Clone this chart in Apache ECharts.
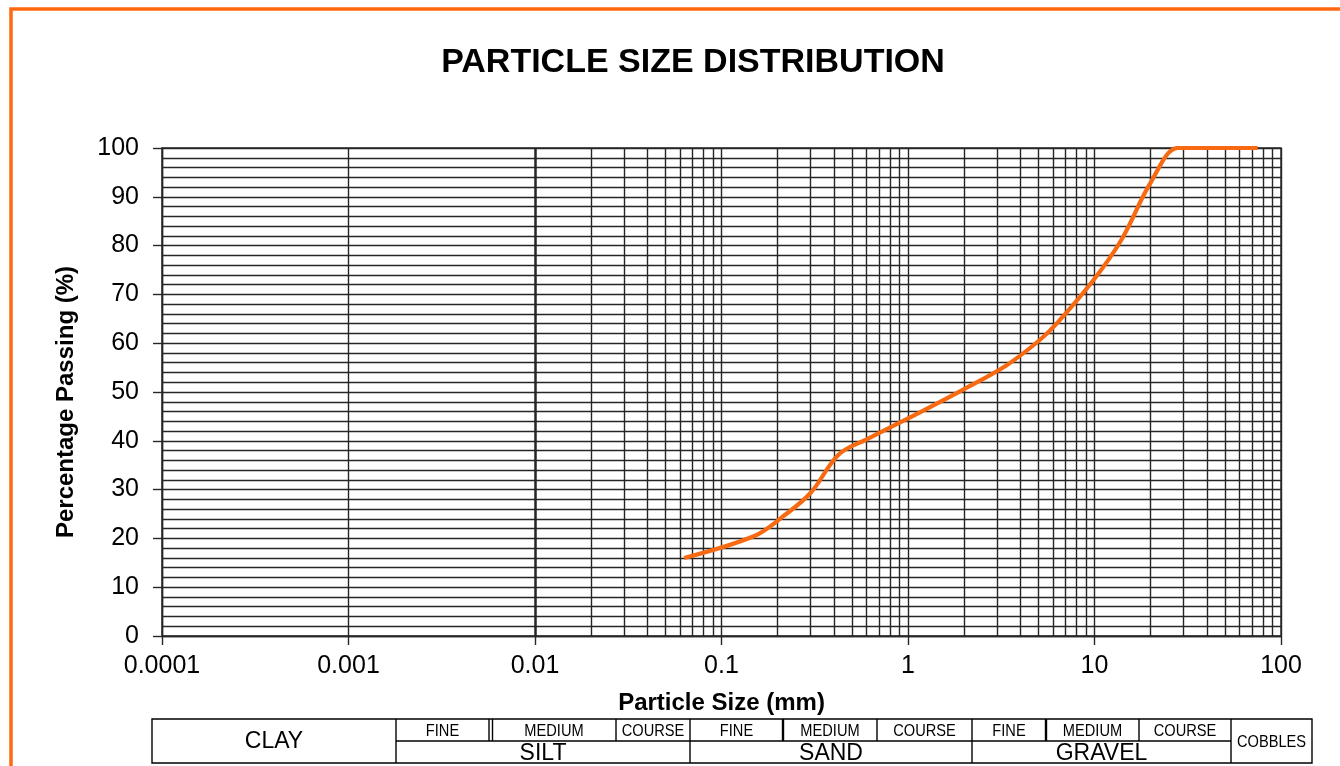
<!DOCTYPE html>
<html>
<head>
<meta charset="utf-8">
<script src="https://cdn.jsdelivr.net/npm/echarts@6/dist/echarts.min.js"></script>
<style>
html,body{margin:0;padding:0;background:#fff;}
#chart{width:1340px;height:766px;}
</style>
</head>
<body>
<div id="chart"></div>
<script>
// ---- data ----
const sieveSizes = [0.063, 0.15, 0.212, 0.3, 0.425, 0.6, 1.18, 2, 3.35, 5, 6.3, 10, 14, 20, 28, 37.5, 50, 63, 75];
const percentPassing = [16, 20.5, 24.4, 29.3, 37.2, 40.3, 46, 50.6, 55.4, 60.4, 64.1, 73.2, 81.3, 92.9, 100, 100, 100, 100, 100];
const xMin = 0.0001, xMax = 100;
const yTicks = [0, 10, 20, 30, 40, 50, 60, 70, 80, 90, 100];
const xTickLabels = ['0.0001', '0.001', '0.01', '0.1', '1', '10', '100'];
const minorMultipliers = [2, 3, 4, 5, 6, 7, 8, 9];
const decadeExponents = [-4, -3, -2, -1, 0, 1];
const yAxisTitle = 'Percentage Passing (%)';
const xAxisTitle = 'Particle Size (mm)';
// classification table labels
const subLabels = ['FINE', 'MEDIUM', 'COURSE', 'FINE', 'MEDIUM', 'COURSE', 'FINE', 'MEDIUM', 'COURSE'];
const groupLabels = ['SILT', 'SAND', 'GRAVEL'];
const edgeLabels = ['CLAY', 'COBBLES'];

// minor vertical grid values (2..9 x 10^k)
const minorX = [];
decadeExponents.forEach(function (e) {
  minorMultipliers.forEach(function (m) {
    minorX.push(parseFloat((m * Math.pow(10, e)).toPrecision(3)));
  });
});

const curveData = sieveSizes.map(function (s, i) { return [s, percentPassing[i]]; });

const GRID = '#262626';
const GW = 1.4;
const ORANGE = '#F76A12';
const FONT = "'Liberation Sans', Arial, sans-serif";

// ---- table layout (pixels) ----
const tTop = 719, tMid = 741, tBot = 763, tLeft = 152, tRight = 1312;
const subCols = [396, 489, 616, 690, 783, 877, 972, 1046, 1139, 1231];
const groupCols = [396, 690, 972, 1231];

const g = [];
function line(x1, y1, x2, y2, w) {
  g.push({ type: 'line', silent: true, shape: { x1: x1, y1: y1, x2: x2, y2: y2 }, style: { stroke: '#000', lineWidth: w || 1.4 } });
}
function txt(x, y, s, size, sx) {
  g.push({ type: 'text', silent: true, x: x, y: y, scaleX: sx || 1, style: { text: s, font: size + 'px ' + FONT, fill: '#000', textAlign: 'center', textVerticalAlign: 'middle' } });
}
// frame
g.push({ type: 'rect', silent: true, shape: { x: 11, y: 9, width: 1400, height: 800 }, style: { fill: 'none', stroke: '#FF6A10', lineWidth: 3.5 } });
// y axis title (rotated)
g.push({ type: 'text', silent: true, x: 66, y: 402, rotation: Math.PI / 2, style: { text: yAxisTitle, font: 'bold 24px ' + FONT, fill: '#000', textAlign: 'center', textVerticalAlign: 'middle' } });
// table outer
g.push({ type: 'rect', silent: true, shape: { x: tLeft, y: tTop, width: tRight - tLeft, height: tBot - tTop }, style: { fill: 'none', stroke: '#000', lineWidth: 1.4 } });
line(396, tMid, 1231, tMid);
// full-height dividers
groupCols.forEach(function (x) { line(x, tTop, x, tBot); });
// top-row dividers
line(489, tTop, 489, tMid); line(492.5, tTop, 492.5, tMid);
line(616, tTop, 616, tMid);
line(783, tTop, 783, tMid, 2.4);
line(877, tTop, 877, tMid);
line(1046, tTop, 1046, tMid, 2.4);
line(1139, tTop, 1139, tMid);
// sub labels
for (let i = 0; i < subLabels.length; i++) {
  const a = subCols[i], b = subCols[i + 1];
  txt((a + b) / 2 + (i === 1 ? 1.5 : 0), 731, subLabels[i], 17, 0.86);
}
for (let i = 0; i < groupLabels.length; i++) {
  txt((groupCols[i] + groupCols[i + 1]) / 2, 754, groupLabels[i], 23);
}
txt((tLeft + 396) / 2, 742, edgeLabels[0], 23);
txt((1231 + tRight) / 2, 742, edgeLabels[1], 17, 0.86);

const chart = echarts.init(document.getElementById('chart'), null, { renderer: 'canvas' });
chart.setOption({
  animation: false,
  backgroundColor: '#fff',
  title: {
    text: 'PARTICLE SIZE DISTRIBUTION',
    left: 688,
    textAlign: 'center',
    top: 41,
    textStyle: { fontFamily: FONT, fontWeight: 'bold', fontSize: 34, color: '#000' }
  },
  grid: { left: 162, right: 59, top: 148, bottom: 130, show: true, borderColor: GRID, borderWidth: GW, backgroundColor: 'transparent' },
  xAxis: {
    type: 'log',
    logBase: 10,
    min: xMin,
    max: xMax,
    splitNumber: 6,
    name: xAxisTitle,
    nameLocation: 'middle',
    nameGap: 55,
    nameTextStyle: { fontFamily: FONT, fontWeight: 'bold', fontSize: 24, color: '#000' },
    axisLine: { show: true, onZero: false, lineStyle: { color: GRID, width: GW } },
    axisTick: { show: true, length: 9, lineStyle: { color: GRID, width: GW } },
    axisLabel: {
      margin: 18,
      fontFamily: FONT, fontSize: 25, color: '#000',
      formatter: function (v) {
        const k = Math.round(Math.log10(v)) + 4;
        return xTickLabels[k] !== undefined ? xTickLabels[k] : '';
      }
    },
    splitLine: { show: true, lineStyle: { color: GRID, width: GW } }
  },
  yAxis: {
    type: 'value',
    min: yTicks[0],
    max: yTicks[yTicks.length - 1],
    interval: 10,
    axisLine: { show: true, lineStyle: { color: GRID, width: GW } },
    axisTick: { show: true, length: 9, lineStyle: { color: GRID, width: GW } },
    axisLabel: { margin: 23, fontFamily: FONT, fontSize: 25, color: '#000' },
    splitLine: { show: true, lineStyle: { color: GRID, width: GW } },
    minorTick: { show: false, splitNumber: 5 },
    minorSplitLine: { show: true, lineStyle: { color: GRID, width: GW } }
  },
  series: [
    {
      type: 'line',
      name: 'minor grid',
      data: [],
      silent: true,
      z: 1,
      markLine: {
        silent: true,
        symbol: ['none', 'none'],
        animation: false,
        label: { show: false },
        lineStyle: { color: GRID, width: GW, type: 'solid' },
        emphasis: { disabled: true },
        data: minorX.map(function (v) { return { xAxis: v }; })
      }
    },
    {
      type: 'line',
      name: 'Passing',
      data: curveData,
      z: 5,
      smooth: 0.35,
      showSymbol: false,
      symbol: 'none',
      lineStyle: { color: ORANGE, width: 4.2 },
      itemStyle: { color: ORANGE }
    }
  ],
  graphic: { elements: g }
});
</script>
</body>
</html>
